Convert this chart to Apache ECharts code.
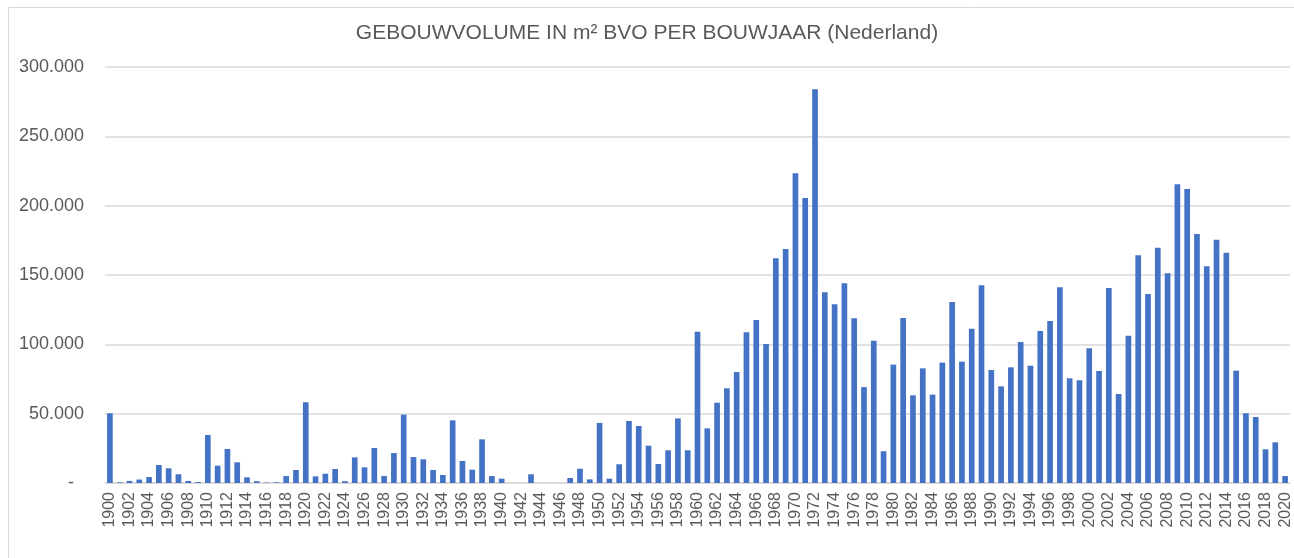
<!DOCTYPE html>
<html>
<head>
<meta charset="utf-8">
<script src="https://cdn.jsdelivr.net/npm/echarts@6/dist/echarts.min.js"></script>
<style>html,body{margin:0;padding:0;background:#fff;}#c{width:1294px;height:558px;}</style>
</head>
<body>
<div id="c"></div>
<script>
var years = [];
for (var y = 1900; y <= 2020; y++) years.push(String(y));

var values1900s = [50300, 500, 1500, 2500, 4300, 13000, 10600, 6300, 1500, 700];
var values1910s = [34600, 12500, 24500, 14900, 4100, 1300, 300, 500, 5000, 9400];
var values1920s = [58200, 4800, 6700, 10100, 1300, 18500, 11300, 25200, 5000, 21600];
var values1930s = [49300, 18700, 17100, 9400, 5800, 45200, 15900, 9600, 31500, 5000];
var values1940s = [3100, 0, 0, 6300, 0, 0, 0, 3600, 10300, 2600];
var values1950s = [43300, 3100, 13500, 44700, 41100, 26900, 13700, 23600, 46600, 23600];
var values1960s = [109100, 39400, 57900, 68300, 80000, 108700, 117500, 100200, 162000, 168700];
var values1970s = [223300, 205500, 283900, 137500, 128900, 144000, 118800, 69200, 102600, 22900];
var values1980s = [85400, 119000, 63200, 82700, 63700, 86800, 130500, 87500, 111300, 142600];
var values1990s = [81500, 69700, 83400, 101700, 84600, 109600, 116800, 141100, 75500, 74100];
var values2000s = [97100, 80800, 140600, 64200, 106200, 164200, 136300, 169700, 151200, 215400];
var values2010s = [212000, 179600, 156300, 175500, 166100, 81000, 50300, 47600, 24300, 29300];
var values2020s = [5000];

var values = [].concat(values1900s, values1910s, values1920s, values1930s, values1940s,
  values1950s, values1960s, values1970s, values1980s, values1990s, values2000s, values2010s, values2020s);

var yTicks = [0, 50000, 100000, 150000, 200000, 250000, 300000];
var yTickLabels = ['-  ', '50.000', '100.000', '150.000', '200.000', '250.000', '300.000'];

var chart = echarts.init(document.getElementById('c'), null, {renderer: 'canvas'});
var font = 'Liberation Sans, Arial, sans-serif';
chart.setOption({
  animation: false,
  backgroundColor: '#ffffff',
  graphic: [{
    type: 'rect', left: 6, top: 5, silent: true,
    shape: {x: 0, y: 0, width: 1300, height: 600},
    style: {fill: 'none', stroke: '#d9d9d9', lineWidth: 1}
  }],
  title: {
    text: 'GEBOUWVOLUME IN m² BVO PER BOUWJAAR (Nederland)',
    left: 'center', top: 18,
    textStyle: {fontFamily: font, fontSize: 21, fontWeight: 'normal', color: '#595959'}
  },
  grid: {left: 105, right: 4, top: 67, bottom: 75, containLabel: false},
  xAxis: {
    type: 'category',
    data: years,
    axisTick: {show: false},
    axisLine: {show: true, lineStyle: {color: '#d9d9d9', width: 1.5}},
    axisLabel: {
      interval: 1, rotate: 90, margin: 9,
      fontFamily: font, fontSize: 16, color: '#595959'
    }
  },
  yAxis: {
    type: 'value',
    min: 0, max: 300000, interval: 50000,
    axisLine: {show: false},
    axisTick: {show: false},
    splitLine: {lineStyle: {color: '#d9d9d9', width: 1.5}},
    axisLabel: {
      margin: 21, fontFamily: font, fontSize: 18, color: '#595959',
      formatter: function (v) {
        var i = yTicks.indexOf(v);
        return i >= 0 ? yTickLabels[i] : '';
      }
    }
  },
  series: [{
    type: 'bar',
    data: values,
    barWidth: '58%',
    itemStyle: {color: '#4472C4'}
  }]
});
</script>
</body>
</html>
